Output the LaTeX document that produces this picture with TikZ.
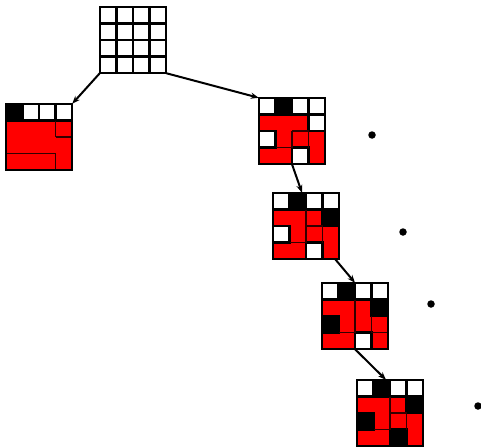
\documentclass[tikz,border=0pt]{standalone}
\usetikzlibrary{arrows.meta}
\tikzset{
  x=1pt, y=-1pt,
  cellline/.style={draw=black, line width=2.6pt},
  pieceline/.style={draw=black!80!red, line width=1.2pt},
  outerline/.style={draw=black, line width=2.8pt},
  gridbox/.style={minimum width=66pt, minimum height=66pt, inner sep=0pt, draw=none},
  conn/.style={line width=2pt, -{Stealth[length=8pt,width=6pt]}},
  dotnode/.style={circle, fill=black, inner sep=0pt, minimum size=7.5pt}
}
\newcommand\mygridcells[3]{%
  \begin{scope}[shift={(#1,#2)},scale=16.5]
    \fill[red] (0,0) rectangle (4,4);
    \foreach \c/\r/\k in {#3} { \filldraw[fill=\k, cellline] (\c,\r) rectangle ++(1,1); }
  \end{scope}}
\newcommand\mypieces[3]{%
  \begin{scope}[shift={(#1,#2)},scale=16.5]
    \foreach \a/\b/\cc/\d in {#3} { \draw[pieceline] (\a,\b) -- (\cc,\d); }
  \end{scope}}
\newcommand\myouter[2]{%
  \begin{scope}[shift={(#1,#2)},scale=16.5]
    \draw[outerline] (0,0) rectangle (4,4);
  \end{scope}}
\begin{document}
\begin{tikzpicture}
\useasboundingbox[fill=white] (0,0) rectangle (481,447);
% grid nodes
\node[gridbox] (g0) at (133,40) {};
\node[gridbox] (g1) at (39,137) {};
\node[gridbox] (g2) at (292,131) {};
\node[gridbox] (g3) at (306,226) {};
\node[gridbox] (g4) at (355,316) {};
\node[gridbox] (g5) at (390,413) {};
% grid 0: empty
\mygridcells{100}{7}{0/0/white,1/0/white,2/0/white,3/0/white,0/1/white,1/1/white,2/1/white,3/1/white,0/2/white,1/2/white,2/2/white,3/2/white,0/3/white,1/3/white,2/3/white,3/3/white}
\myouter{100}{7}
% grid 1
\mygridcells{6}{104}{0/0/black,1/0/white,2/0/white,3/0/white}
\mypieces{6}{104}{3/1/3/2,3/2/4/2,0/3/3/3,3/3/3/4}
\myouter{6}{104}
% grid 2
\mygridcells{259}{98}{0/0/white,1/0/black,2/0/white,3/0/white,3/1/white,0/2/white,2/3/white}
\mypieces{259}{98}{2/2/2/3,3/2/3/3,1/3/2/3,2/2/3/2}
\myouter{259}{98}
% grid 3
\mygridcells{273}{193}{0/0/white,1/0/black,2/0/white,3/0/white,3/1/black,0/2/white,2/3/white}
\mypieces{273}{193}{2/1/2/3,2/2/3/2,3/2/3/3,1/3/2/3}
\myouter{273}{193}
% grid 4
\mygridcells{322}{283}{0/0/white,1/0/black,2/0/white,3/0/white,3/1/black,0/2/black,2/3/white}
\mypieces{322}{283}{2/1/2/3,3/2/3/3,3/3/4/3,1/3/2/3}
\myouter{322}{283}
% grid 5
\mygridcells{357}{380}{0/0/white,1/0/black,2/0/white,3/0/white,3/1/black,0/2/black,2/3/black}
\mypieces{357}{380}{2/1/2/3,2/2/3/2,3/2/3/3,1/3/2/3}
\myouter{357}{380}
% connectors
\draw[conn] (g0.south west) -- (g1.north east);
\draw[conn] (g0.south east) -- (g2.north west);
\draw[conn] (g2.south) -- ([xshift=-4pt]g3.north);
\draw[conn] ([xshift=-4pt]g3.south east) -- (g4.north);
\draw[conn] (g4.south) -- ([xshift=-4pt]g5.north);
% dots
\node[dotnode] (d1) at (372,135) {};
\node[dotnode] (d2) at (403,232) {};
\node[dotnode] (d3) at (431,304) {};
\node[dotnode] (d4) at (478,406) {};
\end{tikzpicture}
\end{document}
